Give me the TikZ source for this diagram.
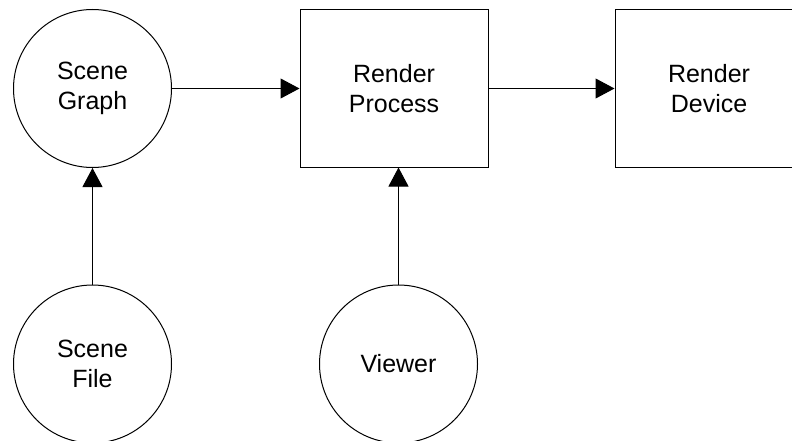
\documentclass[tikz,border=0pt]{standalone}
\usepackage{fontspec}
\setmainfont{Liberation Sans}
\usetikzlibrary{arrows.meta}

\begin{document}
\begin{tikzpicture}[x=1pt, y=-1pt, line width=1pt,
    node/.style={draw, circle, minimum size=158pt, inner sep=0pt, align=center, font=\fontsize{25}{29.5}\selectfont},
    box/.style={draw, rectangle, minimum width=188pt, minimum height=157pt, inner sep=0pt, align=center, font=\fontsize{25}{29.5}\selectfont},
    arrow/.style={-{Triangle[length=19pt, width=20pt]}}]

    \useasboundingbox (0,0) rectangle (792,441);

    % Draw vertices
    \node[node] (graph) at (92.5,88.5) {Scene\\Graph};
    \node[box] (process) at (394,88.5) {Render\\Process};
    \node[box] (device) at (709,88.5) {Render\\Device};
    \node[node] (file) at (92.5,364) {Scene\\File};
    \node[node] (viewer) at (398.5,364) {Viewer};

    \draw[arrow] (graph) -- (process);
    \draw[arrow] (process) -- (device);
    \draw[arrow] (file) -- (graph);
    \draw[arrow] (viewer.north) -- (viewer.north |- process.south);
\end{tikzpicture}
\end{document}
